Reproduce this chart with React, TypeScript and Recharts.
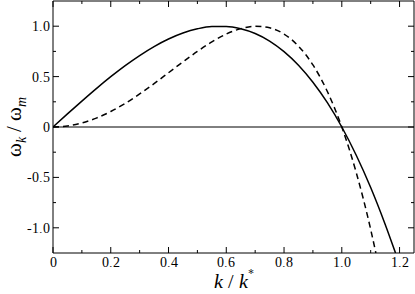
import React from "react";
import {
  LineChart,
  Line,
  XAxis,
  YAxis,
  ReferenceLine,
} from "recharts";

// values
const K_SOLID = [
  0, 0.05, 0.1, 0.15, 0.2, 0.25, 0.3, 0.35, 0.4, 0.45, 0.5, 0.55, 0.6, 0.65,
  0.7, 0.75, 0.8, 0.85, 0.9, 0.95, 1.0, 1.05, 1.1, 1.15, 1.186,
];
const W_SOLID = [
  0, 0.13, 0.257, 0.381, 0.499, 0.609, 0.709, 0.798, 0.873, 0.932, 0.974,
  0.997, 0.998, 0.975, 0.928, 0.853, 0.748, 0.613, 0.444, 0.241, 0, -0.28,
  -0.6, -0.964, -1.25,
];
const K_DASHED = [
  0, 0.05, 0.1, 0.15, 0.2, 0.25, 0.3, 0.35, 0.4, 0.45, 0.5, 0.55, 0.6, 0.65,
  0.7, 0.75, 0.8, 0.85, 0.9, 0.95, 1.0, 1.05, 1.1, 1.118,
];
const W_DASHED = [
  0, 0.01, 0.04, 0.088, 0.154, 0.234, 0.328, 0.43, 0.538, 0.646, 0.75, 0.844,
  0.922, 0.976, 1.0, 0.984, 0.922, 0.802, 0.616, 0.352, 0, -0.452, -1.016,
  -1.25,
];

const X_TICKS = [0, 0.1, 0.2, 0.3, 0.4, 0.5, 0.6, 0.7, 0.8, 0.9, 1.0, 1.1, 1.2];
const X_LABELS: Record<string, string> = {
  "0": "0",
  "0.2": "0.2",
  "0.4": "0.4",
  "0.6": "0.6",
  "0.8": "0.8",
  "1": "1.0",
  "1.2": "1.2",
};
const Y_TICKS = [-1, -0.75, -0.5, -0.25, 0, 0.25, 0.5, 0.75, 1];
const Y_LABELS: Record<string, string> = {
  "-1": "-1.0",
  "-0.5": "-0.5",
  "0": "0",
  "0.5": "0.5",
  "1": "1.0",
};

const W = 415;
const H = 294;
const M = { top: 1, right: 1, left: 0, bottom: 0 };
const Y_AXIS_W = 53;
const X_AXIS_H = 41;
const PW = W - M.left - M.right - Y_AXIS_W;
const PH = H - M.top - M.bottom - X_AXIS_H;

const FONT =
  "PlotSerif, 'Liberation Serif', Tinos, 'Times New Roman', Times, 'DejaVu Serif', 'Noto Serif', serif";

const CSS = `
body { margin: 0; }
@font-face {
  font-family: PlotSerif;
  src: local("Liberation Serif"), local("LiberationSerif"), local("LiberationSerif-Regular"), local("Times New Roman"), local("DejaVu Serif");
  font-style: normal;
}
@font-face {
  font-family: PlotSerif;
  src: local("Liberation Serif Italic"), local("LiberationSerif-Italic"), local("DejaVu Serif Italic");
  font-style: italic;
}
`;

const solid = K_SOLID.map((k, i) => ({ k, w: W_SOLID[i] }));
const dashed = K_DASHED.map((k, i) => ({ k, w: W_DASHED[i] }));

function XTick(props: any) {
  const { x, y, payload } = props;
  const lab = X_LABELS[String(payload.value)];
  const len = lab ? 6 : 3;
  return (
    <g>
      <line x1={x} y1={y} x2={x} y2={y - len} stroke="#000" />
      <line x1={x} y1={y - PH} x2={x} y2={y - PH + len} stroke="#000" />
      {lab && (
        <text
          x={x}
          y={y + 14}
          textAnchor="middle"
          fontFamily={FONT}
          fontSize={14}
          fill="#000"
        >
          {lab}
        </text>
      )}
    </g>
  );
}

function YTick(props: any) {
  const { x, y, payload } = props;
  const lab = Y_LABELS[String(payload.value)];
  const len = lab ? 6 : 3;
  return (
    <g>
      <line x1={x} y1={y} x2={x + len} y2={y} stroke="#000" />
      <line x1={x + PW} y1={y} x2={x + PW - len} y2={y} stroke="#000" />
      {lab && (
        <text
          x={x - 3}
          y={y + 5}
          textAnchor="end"
          fontFamily={FONT}
          fontSize={14}
          fill="#000"
        >
          {lab}
        </text>
      )}
    </g>
  );
}

function XTitle(props: any) {
  const vb = props.viewBox || {};
  const cx = vb.x + vb.width / 2;
  return (
    <text
      x={cx}
      y={vb.y + 35}
      textAnchor="middle"
      fontFamily={FONT}
      fontSize={20}
      fill="#000"
    >
      <tspan fontStyle="italic">k</tspan>
      <tspan> / </tspan>
      <tspan fontStyle="italic">k</tspan>
      <tspan fontSize={12} dy={-10}>*</tspan>
    </text>
  );
}

function YTitle(props: any) {
  const vb = props.viewBox || {};
  const cx = 21;
  const cy = vb.y + vb.height / 2;
  return (
    <text
      x={cx}
      y={cy}
      textAnchor="middle"
      transform={`rotate(-90, ${cx}, ${cy})`}
      fontFamily={FONT}
      fontSize={21}
      fill="#000"
    >
      <tspan>ω</tspan>
      <tspan fontSize={14} fontStyle="italic" dy={5}>k</tspan>
      <tspan dy={-5}> / ω</tspan>
      <tspan fontSize={14} fontStyle="italic" dy={5}>m</tspan>
    </text>
  );
}

export default function App() {
  return (
    <div style={{ width: W, height: H, background: "#fff", fontFamily: FONT }}>
      <style>{CSS}</style>
      <LineChart width={W} height={H} margin={M}>
        <XAxis
          type="number"
          dataKey="k"
          domain={[0, 1.25]}
          ticks={X_TICKS}
          interval={0}
          height={X_AXIS_H}
          tickSize={0}
          tickMargin={0}
          tickLine={false}
          tick={<XTick />}
          axisLine={{ stroke: "#000" }}
          allowDataOverflow
          label={{ content: <XTitle /> }}
        />
        <YAxis
          type="number"
          domain={[-1.25, 1.25]}
          ticks={Y_TICKS}
          interval={0}
          width={Y_AXIS_W}
          tickSize={0}
          tickMargin={0}
          tickLine={false}
          tick={<YTick />}
          axisLine={{ stroke: "#000" }}
          allowDataOverflow
          label={{ content: <YTitle /> }}
        />
        <ReferenceLine y={1.25} stroke="#000" />
        <ReferenceLine x={1.25} stroke="#000" />
        <ReferenceLine y={0} stroke="#000" />
        <Line
          data={solid}
          dataKey="w"
          type="monotone"
          stroke="#000"
          strokeWidth={1.5}
          dot={false}
          isAnimationActive={false}
        />
        <Line
          data={dashed}
          dataKey="w"
          type="monotone"
          stroke="#000"
          strokeWidth={1.5}
          strokeDasharray="6 4"
          dot={false}
          isAnimationActive={false}
        />
      </LineChart>
    </div>
  );
}
